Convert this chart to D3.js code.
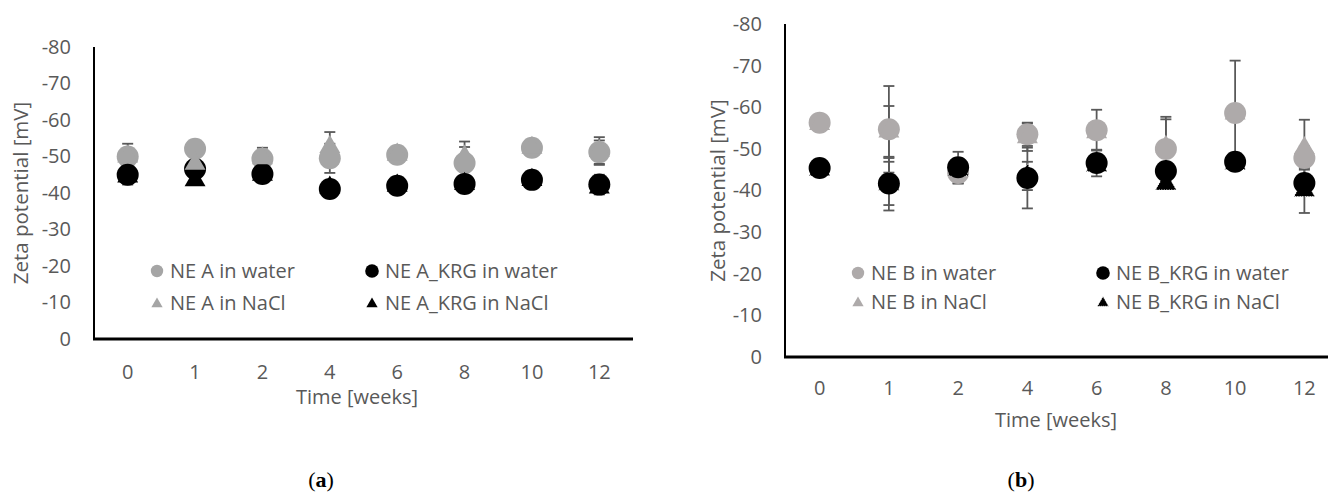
<!DOCTYPE html>
<html>
<head>
<meta charset="utf-8">
<script src="https://cdn.jsdelivr.net/npm/d3@7/dist/d3.min.js"></script>
<style>
  body { margin: 0; background: #fff; }
</style>
</head>
<body>
<script>
// ---------------- data ----------------
var weeks = ['0', '1', '2', '4', '6', '8', '10', '12'];
var y_ticks = [0, -10, -20, -30, -40, -50, -60, -70, -80];

// panel (a)
var a_water = [-50.0, -52.1, -49.4, -49.5, -50.5, -48.2, -52.4, -51.2];
var a_water_err = [3.5, 1.0, 3.0, 4.0, 1.0, 4.4, 1.0, 3.2];
var a_krg_water = [-45.0, -46.6, -45.2, -41.1, -42.0, -42.5, -43.6, -42.3];
var a_krg_water_err = [2.7, 1.0, 1.0, 1.0, 1.0, 1.0, 1.0, 2.7];
var a_nacl = [-50.0, -48.0, -49.5, -52.6, -50.5, -50.0, -52.4, -51.5];
var a_nacl_err = [1.0, 1.0, 1.0, 4.1, 1.0, 4.1, 1.0, 3.8];
var a_krg_nacl = [-44.5, -43.5, -45.0, -41.5, -42.0, -42.5, -43.6, -41.5];
var a_krg_nacl_err = [1.0, 1.0, 1.0, 1.0, 1.0, 1.0, 1.0, 1.5];

// panel (b)
var b_water = [-56.3, -54.7, -44.2, -53.5, -54.5, -50.0, -58.6, -47.8];
var b_water_err = [1.0, 10.4, 2.5, 2.8, 4.9, 7.7, 12.6, 2.8];
var b_krg_water = [-45.4, -41.7, -45.6, -43.0, -46.6, -44.7, -46.9, -41.8];
var b_krg_water_err = [1.0, 5.2, 1.0, 7.3, 3.2, 1.0, 1.0, 1.0];
var b_nacl = [-56.0, -54.2, -45.5, -52.8, -54.0, -50.5, -58.5, -50.2];
var b_nacl_err = [1.0, 6.1, 3.8, 3.3, 1.0, 6.6, 1.0, 6.8];
var b_krg_nacl = [-45.0, -41.5, -45.0, -43.5, -46.0, -41.6, -46.5, -40.0];
var b_krg_nacl_err = [1.0, 6.3, 1.0, 3.4, 1.0, 1.0, 1.0, 5.4];

var font = '"Open Sans", sans-serif';
var text_color = '#595959';
var err_color = '#595959';

var svg = d3.select('body')
  .append('svg')
  .attr('width', 1328)
  .attr('height', 496);

var tri = d3.symbol().type(d3.symbolTriangle).size(190);
var tri_small = d3.symbol().type(d3.symbolTriangle).size(55);

function draw_panel(p) {
  var x_scale = d3.scaleBand()
    .domain(weeks)
    .range([p.left, p.right]);

  var y_scale = d3.scaleLinear()
    .domain([0, -80])
    .range([p.bottom, p.top]);

  var g = svg.append('g');

  // y axis labels
  var y_axis = d3.axisLeft(y_scale)
    .tickValues(y_ticks)
    .tickSize(0)
    .tickPadding(23)
    .tickFormat(function(d) { return d; });
  var gy = g.append('g')
    .attr('transform', 'translate(' + p.left + ',0)')
    .call(y_axis);
  gy.select('.domain').remove();
  gy.selectAll('text')
    .attr('font-family', font)
    .attr('font-size', 20)
    .attr('fill', text_color);

  // x axis labels
  var x_axis = d3.axisBottom(x_scale)
    .tickSize(0)
    .tickPadding(p.x_pad);
  var gx = g.append('g')
    .attr('transform', 'translate(0,' + p.bottom + ')')
    .call(x_axis);
  gx.select('.domain').remove();
  gx.selectAll('text')
    .attr('font-family', font)
    .attr('font-size', 20)
    .attr('fill', text_color);

  // axis lines
  g.append('line')
    .attr('x1', p.left).attr('x2', p.left)
    .attr('y1', y_scale(-80)).attr('y2', p.bottom)
    .attr('stroke', '#000').attr('stroke-width', 2);
  g.append('line')
    .attr('x1', p.left - 1).attr('x2', p.axis_end)
    .attr('y1', p.bottom).attr('y2', p.bottom)
    .attr('stroke', '#000').attr('stroke-width', 3);

  // axis titles
  g.append('text')
    .attr('transform', 'translate(' + p.ytitle_x + ',' + (p.top + p.bottom) / 2 + ') rotate(-90)')
    .attr('text-anchor', 'middle')
    .attr('dy', '0.35em')
    .attr('font-family', font)
    .attr('font-size', 20.5)
    .attr('fill', text_color)
    .text('Zeta potential [mV]');
  g.append('text')
    .attr('x', p.xtitle_x)
    .attr('y', p.xtitle_y)
    .attr('text-anchor', 'middle')
    .attr('dy', '0.35em')
    .attr('font-family', font)
    .attr('font-size', 20)
    .attr('fill', text_color)
    .text('Time [weeks]');

  // error bars first, markers on top
  var cx = function(i) { return x_scale(weeks[i]) + x_scale.bandwidth() / 2; };
  p.series.forEach(function(s) {
    var eg = g.append('g')
      .attr('stroke', err_color)
      .attr('stroke-width', 1.8);
    s.values.forEach(function(v, i) {
      var e = s.err[i];
      var y1 = y_scale(v - e);
      var y2 = y_scale(v + e);
      eg.append('line').attr('x1', cx(i)).attr('x2', cx(i)).attr('y1', y1).attr('y2', y2);
      eg.append('line').attr('x1', cx(i) - 5.5).attr('x2', cx(i) + 5.5).attr('y1', y1).attr('y2', y1);
      eg.append('line').attr('x1', cx(i) - 5.5).attr('x2', cx(i) + 5.5).attr('y1', y2).attr('y2', y2);
    });
  });

  // markers, stacked in the order the picture shows
  p.order.forEach(function(k) {
    var s = p.series[k];
    var mg = g.append('g');
    if (s.shape === 'circle') {
      mg.selectAll('circle')
        .data(s.values)
        .enter()
        .append('circle')
        .attr('cx', function(d, i) { return cx(i); })
        .attr('cy', function(d) { return y_scale(d); })
        .attr('r', 11)
        .attr('fill', s.color);
    } else {
      mg.selectAll('path')
        .data(s.values)
        .enter()
        .append('path')
        .attr('d', tri)
        .attr('transform', function(d, i) {
          return 'translate(' + cx(i) + ',' + y_scale(d) + ')';
        })
        .attr('fill', s.color)
        .attr('stroke', s.dotted ? '#fff' : 'none')
        .attr('stroke-width', 1)
        .attr('stroke-dasharray', '1,1.5');
    }
  });

  // legend (two columns, two rows)
  var lg = g.append('g');
  p.series.forEach(function(s, k) {
    var col = k % 2;
    var row = Math.floor(k / 2);
    var mx = p.leg_x[col];
    var my = p.leg_y[row];
    if (s.shape === 'circle') {
      lg.append('circle')
        .attr('cx', mx).attr('cy', my)
        .attr('r', col === 0 ? 6.2 : 6.8)
        .attr('fill', s.color);
    } else {
      lg.append('path')
        .attr('d', tri_small)
        .attr('transform', 'translate(' + mx + ',' + (my + 1) + ')')
        .attr('fill', s.color)
        .attr('stroke', s.dotted ? '#fff' : 'none')
        .attr('stroke-width', 0.8)
        .attr('stroke-dasharray', '1,1');
    }
    lg.append('text')
      .attr('x', mx + 13)
      .attr('y', my)
      .attr('dy', '0.35em')
      .attr('font-family', font)
      .attr('font-size', 20)
      .attr('fill', text_color)
      .text(s.name);
  });
}

draw_panel({
  left: 94, right: 633, axis_end: 633, top: 47, bottom: 339,
  x_pad: 26, ytitle_x: 21, xtitle_x: 357, xtitle_y: 397,
  leg_x: [157, 372], leg_y: [271, 303],
  order: [0, 3, 1, 2],
  series: [
    { name: 'NE A in water', values: a_water, err: a_water_err, shape: 'circle', color: '#a5a5a5' },
    { name: 'NE A_KRG in water', values: a_krg_water, err: a_krg_water_err, shape: 'circle', color: '#000' },
    { name: 'NE A in NaCl', values: a_nacl, err: a_nacl_err, shape: 'triangle', color: '#a5a5a5' },
    { name: 'NE A_KRG in NaCl', values: a_krg_nacl, err: a_krg_nacl_err, shape: 'triangle', color: '#000' }
  ]
});

draw_panel({
  left: 785, right: 1339, axis_end: 1328, top: 24, bottom: 357,
  x_pad: 24, ytitle_x: 718, xtitle_x: 1056, xtitle_y: 420,
  leg_x: [858, 1103], leg_y: [273, 302],
  order: [0, 2, 3, 1],
  series: [
    { name: 'NE B in water', values: b_water, err: b_water_err, shape: 'circle', color: '#aeaaaa' },
    { name: 'NE B_KRG in water', values: b_krg_water, err: b_krg_water_err, shape: 'circle', color: '#000' },
    { name: 'NE B in NaCl', values: b_nacl, err: b_nacl_err, shape: 'triangle', color: '#aeaaaa' },
    { name: 'NE B_KRG in NaCl', values: b_krg_nacl, err: b_krg_nacl_err, shape: 'triangle', color: '#000', dotted: true }
  ]
});

// sub-figure captions
[['a', 321], ['b', 1021]].forEach(function(c) {
  var t = svg.append('text')
    .attr('x', c[1])
    .attr('y', 487)
    .attr('text-anchor', 'middle')
    .attr('font-family', '"Liberation Serif", serif')
    .attr('font-size', 22)
    .attr('fill', '#000');
  t.append('tspan').text('(');
  t.append('tspan').attr('font-weight', 'bold').text(c[0]);
  t.append('tspan').text(')');
});
</script>
</body>
</html>
